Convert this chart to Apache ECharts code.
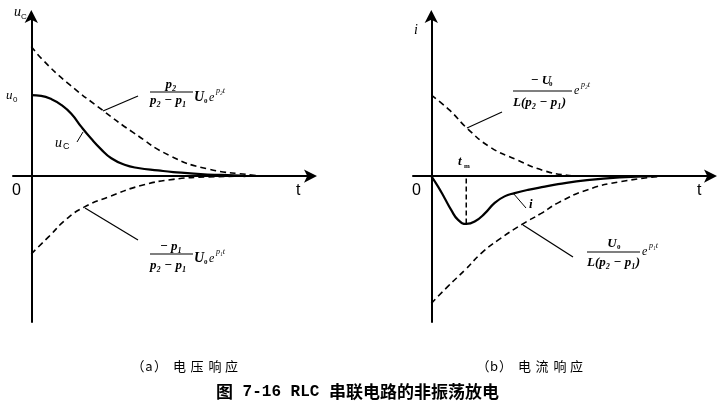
<!DOCTYPE html>
<html><head><meta charset="utf-8">
<script src="https://cdn.jsdelivr.net/npm/echarts@6/dist/echarts.min.js"></script>
<style>html,body{margin:0;padding:0;background:#fff}#c{width:720px;height:410px}</style>
</head><body><div id="c"></div>
<script>
// ---- Panel (a) voltage response ----
const aUpperT = [0, 0.39, 1.25, 2.54, 3.61, 4.93, 6.25, 7.9, 8.2];
const aUpperY = [1.6, 1.44, 1.16, 0.81, 0.54, 0.25, 0.09, 0.01, 0];
const aUcT = [0, 0.35, 0.71, 1.06, 1.42, 1.77, 2.13, 2.48, 2.84, 3.31, 3.79, 4.5, 5.04, 6.25, 7.18, 7.6];
const aUcY = [1.0, 0.99, 0.95, 0.88, 0.77, 0.61, 0.46, 0.33, 0.22, 0.14, 0.1, 0.07, 0.05, 0.02, 0.01, 0];
const aLowerT = [0, 0.64, 1.25, 1.89, 2.79, 3.86, 5.04, 6.25, 7.9];
const aLowerY = [-0.96, -0.74, -0.53, -0.38, -0.25, -0.12, -0.04, -0.01, 0];
// ---- Panel (b) current response ----
const bUpperT = [0, 0.66, 1.27, 2.08, 3.04, 3.97, 4.82, 5.3];
const bUpperY = [1.0, 0.81, 0.59, 0.36, 0.20, 0.07, 0.01, 0];
const bIT = [0, 0.24, 0.47, 0.71, 0.95, 1.24, 1.54, 1.9, 2.25, 2.6, 2.96, 3.43, 4.03, 4.5, 5.53, 6.7, 7.87];
const bIY = [0, -0.13, -0.27, -0.42, -0.54, -0.59, -0.56, -0.46, -0.33, -0.25, -0.21, -0.17, -0.13, -0.10, -0.05, -0.015, 0];
const bLowerT = [0, 0.59, 1.19, 1.78, 2.37, 3.2, 3.9, 4.5, 5.53, 6.7, 8.2];
const bLowerY = [-1.57, -1.36, -1.16, -0.95, -0.79, -0.60, -0.46, -0.33, -0.17, -0.07, 0];
const tm = 1.24;
const tmMin = -0.59;
// ---- texts ----
const captionA = '（a）电压响应';
const captionB = '（b）电流响应';
const titleParts = ['图', ' 7-16 RLC ', '串联电路的非振荡放电'];

const zip = (t, y) => t.map((v, i) => [v, y[i]]);

const chart = echarts.init(document.getElementById('c'));
const axisX = (gi) => ({
  type: 'value', gridIndex: gi, min: -0.65, max: 10,
  axisLine: { onZero: true, lineStyle: { color: '#000', width: 2 }, symbol: ['none', 'arrow'], symbolSize: [10, 13], symbolOffset: [0, 4] },
  axisTick: { show: false }, axisLabel: { show: false }, splitLine: { show: false }
});
const axisY = (gi) => ({
  type: 'value', gridIndex: gi, min: -1.8, max: 2.0,
  axisLine: { onZero: true, lineStyle: { color: '#000', width: 2 }, symbol: ['none', 'arrow'], symbolSize: [10, 13], symbolOffset: [0, 4] },
  axisTick: { show: false }, axisLabel: { show: false }, splitLine: { show: false }
});
const dashed = { color: '#000', width: 1.6, type: [6, 4] };
const solid = { color: '#000', width: 2.2 };
const ser = (gi, data, style, smooth) => ({
  type: 'line', xAxisIndex: gi, yAxisIndex: gi, data, showSymbol: false, symbol: 'none',
  smooth: smooth, lineStyle: style, silent: true, animation: false
});

const F = '"Liberation Serif", "DejaVu Serif", serif';
const S = '"Liberation Sans", Arial, sans-serif';
const CJK = '"Noto Sans CJK SC", sans-serif';
const T = (x, y, text, o = {}) => ({
  type: 'text', x, y, silent: true,
  style: Object.assign({ text, fill: '#000', font: `italic bold 13px ${F}`, textAlign: 'left', textVerticalAlign: 'middle' }, o)
});
const L = (x1, y1, x2, y2, w = 1.2) => ({
  type: 'line', silent: true, shape: { x1, y1, x2, y2 }, style: { stroke: '#000', lineWidth: w }
});
// caption glyph centres (spaced like the reference)
const capOffsets = [3, 14, 25.5, 44.5, 62, 80, 96.5];
const caption = (str, x0) => Array.from(str).map((ch, i) =>
  T(x0 + capOffsets[i], 366, ch, { textAlign: 'center', font: `13px ${CJK}` }));

const graphics = [
  // panel a axis labels
  T(14, 12, 'u', { font: `italic 14px ${F}` }),
  T(21, 17, 'C', { font: `8px ${S}` }),
  T(6, 96, 'u', { font: `italic 13px ${F}` }),
  T(13, 100, '0', { font: `8px ${S}` }),
  T(12, 191, '0', { font: `16px ${S}` }),
  T(296, 191, 't', { font: `16px ${S}` }),
  // uc label
  T(55, 143, 'u', { font: `italic 14px ${F}` }),
  T(63, 147, 'C', { font: `9px ${S}` }),
  L(77, 142, 83, 132, 1),
  // upper formula a
  T(171, 85, 'p₂', { textAlign: 'center' }),
  L(150, 92, 193, 92, 1.2),
  T(150, 101, 'p₂ − p₁'),
  T(194, 97, 'U', { font: `italic bold 14px ${F}` }),
  T(204, 101, '0', { font: `bold 7px ${F}` }),
  T(209, 98, 'e', { font: `italic 12px ${F}` }),
  T(216, 91, 'p₂t', { font: `italic 8px ${F}` }),
  L(103, 111, 138, 96, 1.2),
  // lower formula a
  T(171, 247, '− p₁', { textAlign: 'center' }),
  L(150, 254, 193, 254, 1.2),
  T(150, 266, 'p₂ − p₁'),
  T(194, 258, 'U', { font: `italic bold 14px ${F}` }),
  T(204, 262, '0', { font: `bold 7px ${F}` }),
  T(209, 259, 'e', { font: `italic 12px ${F}` }),
  T(216, 252, 'p₁t', { font: `italic 8px ${F}` }),
  L(85, 208, 138, 240, 1.2),
  // panel b axis labels
  T(414, 30, 'i', { font: `italic 14px ${F}` }),
  T(412, 191, '0', { font: `16px ${S}` }),
  T(697, 191, 't', { font: `16px ${S}` }),
  T(458, 162, 't', { font: `italic bold 13px ${F}` }),
  T(464, 166, 'm', { font: `bold 7px ${F}` }),
  // upper formula b
  T(541, 81, '− U', { textAlign: 'center', font: `italic bold 13px ${F}` }),
  T(549, 84, '0', { font: `bold 7px ${F}` }),
  L(513, 91, 572, 91, 1.2),
  T(513, 103, 'L(p₂ − p₁)'),
  T(574, 91, 'e', { font: `italic 12px ${F}` }),
  T(581, 85, 'p₂t', { font: `italic 8px ${F}` }),
  L(467, 128, 502, 112, 1.2),
  // lower formula b
  T(612, 244, 'U', { textAlign: 'center', font: `italic bold 13px ${F}` }),
  T(617, 247, '0', { font: `bold 7px ${F}` }),
  L(587, 252, 640, 252, 1.2),
  T(587, 263, 'L(p₂ − p₁)'),
  T(642, 252, 'e', { font: `italic 12px ${F}` }),
  T(649, 246, 'p₁t', { font: `italic 8px ${F}` }),
  L(523, 225, 573, 257, 1.2),
  // i label
  T(529, 205, 'i', { font: `italic bold 13px ${F}` }),
  L(513, 193, 526, 208, 1),
  ...caption(captionA, 135),
  ...caption(captionB, 480),
  {
    type: 'text', x: 216, y: 392, silent: true,
    style: {
      text: `{c|${titleParts[0]}}{m|${titleParts[1]}}{c|${titleParts[2]}}`,
      textVerticalAlign: 'middle', textAlign: 'left',
      rich: {
        c: { fontFamily: 'Noto Sans CJK SC', fontWeight: 'bold', fontSize: 17, fill: '#000' },
        m: { fontFamily: 'Liberation Mono', fontWeight: 'bold', fontSize: 16, fill: '#000' }
      }
    }
  }
];

chart.setOption({
  animation: false,
  backgroundColor: '#fff',
  grid: [
    { left: 13, top: 14, width: 300, height: 308 },
    { left: 413, top: 14, width: 300, height: 308 }
  ],
  xAxis: [axisX(0), axisX(1)],
  yAxis: [axisY(0), axisY(1)],
  series: [
    ser(0, zip(aUpperT, aUpperY), dashed, 0.5),
    ser(0, zip(aUcT, aUcY), solid, 0.5),
    ser(0, zip(aLowerT, aLowerY), dashed, 0.5),
    ser(1, zip(bUpperT, bUpperY), dashed, 0.5),
    ser(1, zip(bIT, bIY), solid, 0.5),
    ser(1, zip(bLowerT, bLowerY), dashed, 0.5),
    ser(1, [[tm, -0.03], [tm, tmMin]], { color: '#000', width: 1.5, type: [5, 3] }, false)
  ],
  graphic: graphics
});
</script></body></html>
